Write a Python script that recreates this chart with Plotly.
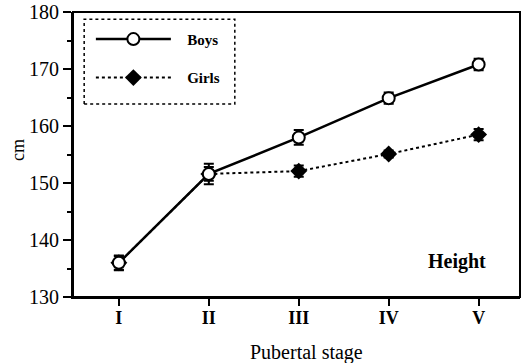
import plotly.graph_objects as go

stages = ["I", "II", "III", "IV", "V"]
stage_pos = [1, 2, 3, 4, 5]
boys = [136.0, 151.6, 158.0, 164.9, 170.8]
boys_err = [1.3, 1.8, 1.3, 1.0, 1.0]
girls = [136.0, 151.6, 152.1, 155.1, 158.5]
girls_err = [1.2, 1.2, 1.0, 0.6, 1.0]
y_ticks = [130, 140, 150, 160, 170, 180]

font_family = "Liberation Serif"
pad = "\u00a0" * 3

fig = go.Figure()
fig.add_trace(go.Scatter(
    x=stage_pos, y=girls, name=pad + "Girls", legendgroup="g", legendrank=2,
    mode="lines+markers",
    line=dict(color="black", width=2, dash="dot"),
    marker=dict(symbol="diamond", size=13, color="black"),
    error_y=dict(type="data", array=girls_err, color="black", thickness=2, width=5),
))
fig.add_trace(go.Scatter(
    x=stage_pos, y=boys, name=pad + "Boys", legendgroup="b", legendrank=1,
    mode="lines+markers",
    line=dict(color="black", width=2.5),
    marker=dict(symbol="circle", size=12, color="white", line=dict(color="black", width=2)),
    error_y=dict(type="data", array=boys_err, color="black", thickness=2, width=5),
))

fig.update_layout(
    width=526, height=363,
    margin=dict(l=73, r=6, t=12, b=66, autoexpand=False),
    plot_bgcolor="white", paper_bgcolor="white",
    font=dict(family=font_family, color="black", size=16),
    showlegend=True,
    legend=dict(
        x=0.04, y=0.962, xanchor="left", yanchor="top",
        bgcolor="rgba(0,0,0,0)", borderwidth=0,
        font=dict(family=font_family, size=15, color="black", weight="bold"),
        tracegroupgap=16, itemwidth=75,
    ),
    xaxis=dict(
        range=[0.49, 5.46], tickvals=stage_pos, ticktext=stages,
        showline=True, linecolor="black", linewidth=2, mirror=False,
        ticks="outside", ticklen=7, tickwidth=2, tickcolor="black",
        showgrid=False, zeroline=False, automargin=False,
        tickfont=dict(family=font_family, size=18, color="black", weight="bold"),
    ),
    yaxis=dict(
        range=[130, 180.02], tickvals=y_ticks,
        showline=True, linecolor="black", linewidth=2, mirror=False,
        ticks="outside", ticklen=8, tickwidth=2, tickcolor="black",
        minor=dict(dtick=5, ticks="outside", ticklen=4, tickwidth=2, tickcolor="black", showgrid=False),
        showgrid=False, zeroline=False, automargin=False,
        tickfont=dict(family=font_family, size=20, color="black"),
    ),
    shapes=[
        dict(type="rect", xref="paper", yref="paper", x0=0, x1=1, y0=0, y1=1,
             line=dict(color="black", width=2)),
        dict(type="rect", xref="paper", yref="paper",
             x0=0.025, x1=0.362, y0=0.677, y1=0.975,
             line=dict(color="black", width=1.5, dash="dot")),
    ],
    annotations=[
        dict(text="<b>Height</b>", xref="paper", yref="paper",
             x=0.859, y=0.123, xanchor="center", yanchor="middle",
             showarrow=False, font=dict(family=font_family, size=20, color="black")),
        dict(text="Pubertal stage", xref="paper", yref="paper",
             x=0.523, y=-0.196, xanchor="center", yanchor="middle",
             showarrow=False, font=dict(family=font_family, size=20, color="black")),
        dict(text="cm", xref="paper", yref="paper", textangle=-90,
             x=-0.123, y=0.516, xanchor="center", yanchor="middle",
             showarrow=False, font=dict(family=font_family, size=18, color="black")),
    ],
)

try:
    fig.update_xaxes(ticklabelstandoff=-4)
except Exception:
    pass

fig.write_html(
    "out.html",
    config={"displayModeBar": False},
    post_script="document.body.style.margin='0';document.body.style.overflow='hidden';",
)
